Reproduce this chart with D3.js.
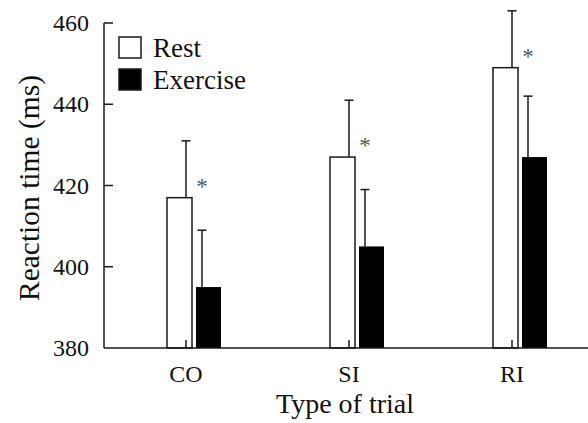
<!DOCTYPE html>
<html lang="en">
<head>
    <meta charset="UTF-8">
    <title>Reaction time</title>
    <style>
        body { margin: 0; background: #fff; }
        text { font-family: "Liberation Serif", "Times New Roman", serif; fill: #111; }
    </style>
</head>
<body>
    <div id="chart"></div>

    <script src="https://d3js.org/d3.v7.min.js"></script>
    <script>
        // values
        const categories = ["CO", "SI", "RI"];
        const rest = [417, 427, 449];
        const restErr = [14, 14, 14];
        const exercise = [395, 405, 427];
        const exerciseErr = [14, 14, 15];
        const yTicks = [380, 400, 420, 440, 460];
        const significant = [true, true, true];

        const svg = d3.select("#chart").append("svg").attr("width", 588).attr("height", 423);

        const axisLeft = 104, axisBottom = 348;
        const y = d3.scaleLinear().domain([380, 460]).range([axisBottom, 23]);
        const x = d3.scalePoint().domain(categories).range([194, 520]);

        const barW = 25, gap = 4, errOff = 8, cap = 4.5;
        const ink = "#1a1a1a";

        // y axis line + inward ticks
        svg.append("line")
            .attr("x1", axisLeft).attr("x2", axisLeft)
            .attr("y1", y(460)).attr("y2", axisBottom)
            .attr("stroke", ink).attr("stroke-width", 1.5);

        svg.selectAll(".ytick")
            .data(yTicks.slice(1))
            .enter().append("line")
            .attr("x1", axisLeft).attr("x2", axisLeft + 9)
            .attr("y1", d => y(d)).attr("y2", d => y(d))
            .attr("stroke", ink).attr("stroke-width", 1.5);

        svg.selectAll(".ylabel")
            .data(yTicks)
            .enter().append("text")
            .attr("x", axisLeft - 15)
            .attr("y", d => y(d))
            .attr("dy", "0.34em")
            .attr("text-anchor", "end")
            .style("font-size", "24px")
            .text(d => d);

        const rows = categories.map((c, i) => ({
            cat: c, rest: rest[i], restErr: restErr[i],
            ex: exercise[i], exErr: exerciseErr[i], sig: significant[i]
        }));

        // error bars first so the bars sit on top of them
        const err = svg.selectAll(".err").data(rows).enter().append("g");

        err.append("line")
            .attr("x1", d => x(d.cat) - errOff).attr("x2", d => x(d.cat) - errOff)
            .attr("y1", d => y(d.rest)).attr("y2", d => y(d.rest + d.restErr))
            .attr("stroke", ink).attr("stroke-width", 1.5);
        err.append("line")
            .attr("x1", d => x(d.cat) - errOff - cap).attr("x2", d => x(d.cat) - errOff + cap)
            .attr("y1", d => y(d.rest + d.restErr)).attr("y2", d => y(d.rest + d.restErr))
            .attr("stroke", ink).attr("stroke-width", 1.5);
        err.append("line")
            .attr("x1", d => x(d.cat) + errOff).attr("x2", d => x(d.cat) + errOff)
            .attr("y1", d => y(d.ex)).attr("y2", d => y(d.ex + d.exErr))
            .attr("stroke", ink).attr("stroke-width", 1.5);
        err.append("line")
            .attr("x1", d => x(d.cat) + errOff - cap).attr("x2", d => x(d.cat) + errOff + cap)
            .attr("y1", d => y(d.ex + d.exErr)).attr("y2", d => y(d.ex + d.exErr))
            .attr("stroke", ink).attr("stroke-width", 1.5);

        // rest bars (white)
        svg.selectAll(".rest")
            .data(rows)
            .enter().append("rect")
            .attr("x", d => x(d.cat) - gap / 2 - barW)
            .attr("y", d => y(d.rest))
            .attr("width", barW)
            .attr("height", d => axisBottom - y(d.rest))
            .attr("fill", "#fff")
            .attr("stroke", ink).attr("stroke-width", 1.5);

        // little stub at the foot of the white bars
        svg.selectAll(".stub")
            .data(rows)
            .enter().append("line")
            .attr("x1", d => x(d.cat) - errOff).attr("x2", d => x(d.cat) - errOff)
            .attr("y1", axisBottom).attr("y2", axisBottom - 8)
            .attr("stroke", ink).attr("stroke-width", 1.5);

        // exercise bars (black)
        svg.selectAll(".ex")
            .data(rows)
            .enter().append("rect")
            .attr("x", d => x(d.cat) + gap / 2)
            .attr("y", d => y(d.ex))
            .attr("width", barW)
            .attr("height", d => axisBottom - y(d.ex))
            .attr("fill", "#000");

        // x axis line
        svg.append("line")
            .attr("x1", axisLeft).attr("x2", 588)
            .attr("y1", axisBottom).attr("y2", axisBottom)
            .attr("stroke", ink).attr("stroke-width", 1.5);

        // asterisks
        svg.selectAll(".star")
            .data(rows.filter(d => d.sig))
            .enter().append("text")
            .attr("x", d => x(d.cat) + errOff)
            .attr("y", d => y(d.rest) - 20)
            .attr("dy", "0.7em")
            .attr("text-anchor", "middle")
            .style("font-size", "23px")
            .style("fill", "#555")
            .text("*");

        // category labels
        svg.selectAll(".xlabel")
            .data(categories)
            .enter().append("text")
            .attr("x", d => x(d) - errOff)
            .attr("y", 382)
            .attr("text-anchor", "middle")
            .style("font-size", "24px")
            .text(d => d);

        // axis titles
        svg.append("text")
            .attr("x", 345).attr("y", 413)
            .attr("text-anchor", "middle")
            .style("font-size", "28px")
            .text("Type of trial");

        svg.append("text")
            .attr("transform", "translate(39,188) rotate(-90)")
            .attr("text-anchor", "middle")
            .style("font-size", "29.5px")
            .text("Reaction time (ms)");

        // legend
        const legend = [
            { label: "Rest", fill: "#fff" },
            { label: "Exercise", fill: "#000" }
        ];
        const lg = svg.selectAll(".legend")
            .data(legend)
            .enter().append("g")
            .attr("transform", (d, i) => "translate(119," + (37 + i * 32) + ")");
        lg.append("rect")
            .attr("width", 22).attr("height", 21)
            .attr("fill", d => d.fill)
            .attr("stroke", ink).attr("stroke-width", 1.5);
        lg.append("text")
            .attr("x", 34).attr("y", 20)
            .style("font-size", "27px")
            .text(d => d.label);
    </script>
</body>
</html>
